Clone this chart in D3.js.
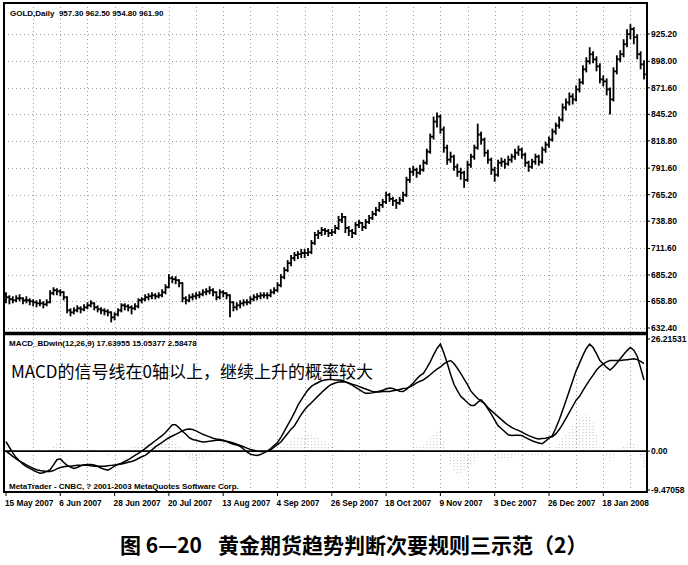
<!DOCTYPE html>
<html><head><meta charset="utf-8">
<script src="https://cdn.jsdelivr.net/npm/d3@7"></script>
<style>body{margin:0;background:#fff}svg{display:block}</style>
</head><body><svg id="c" width="688" height="565"></svg>
<script>
// ---------- data ----------
const priceTicks = [632.4, 658.8, 685.2, 711.6, 738.8, 765.2, 791.6, 818.8, 845.2, 871.6, 898.0, 925.2];
const priceTickLabels = ["632.40","658.80","685.20","711.60","738.80","765.20","791.60","818.80","845.20","871.60","898.00","925.20"];
const dateLabels = ["15 May 2007","6 Jun 2007","28 Jun 2007","20 Jul 2007","13 Aug 2007","4 Sep 2007","26 Sep 2007","18 Oct 2007","9 Nov 2007","3 Dec 2007","26 Dec 2007","18 Jan 2008"];
const macdTicks = [26.21531, 0, -9.47058];
const macdTickLabels = ["26.21531","0.00","-9.47058"];

const opens = [666,663,661,660,662,662,660,660,659,658, 657,657,656,658,667,670,669,668,663,650,
 648,650,652,651,653,655,657,653,651,650, 649,648,643,646,650,655,654,653,652,654,
 660,661,663,664,665,664,665,668,673,682, 681,680,677,662,660,663,664,665,666,668,
 669,670,668,663,668,667,665,658,653,655, 657,658,658,661,663,664,665,665,665,668,
 670,675,683,690,697,702,705,706,707,707, 708,717,725,727,730,729,727,728,732,740,
 743,732,729,727,735,737,733,738,742,746, 750,755,758,765,761,759,757,760,765,780,
 788,790,787,790,797,808,823,838,843,830, 812,800,803,793,788,787,780,795,803,812,
 825,820,807,800,790,785,797,798,796,800, 803,807,810,805,797,793,798,803,798,810,
 815,820,828,834,840,852,857,863,860,870, 877,890,898,905,900,893,880,878,870,860,
 888,900,905,915,925,930,922,905,895];
const highs = [668,665,664,665,666,663,664,662,661,660, 661,659,661,670,673,672,671,669,664,652,
 653,655,654,656,658,660,658,655,653,652, 651,649,648,652,657,657,656,655,657,662,
 663,666,667,668,667,668,671,676,686,684, 684,681,678,664,666,667,668,669,671,672,
 674,672,669,671,670,668,666,659,658,660, 661,661,664,666,667,668,668,668,671,673,
 678,686,693,700,705,708,709,711,711,712, 720,728,730,733,732,731,731,735,744,747,
 744,734,731,738,740,738,741,745,749,753, 758,761,768,767,763,761,763,768,783,792,
 794,792,795,800,811,826,843,847,845,833, 815,808,805,796,792,789,799,806,815,836,
 828,822,810,802,793,800,802,801,804,806, 811,814,812,807,799,801,806,805,813,818,
 823,831,837,843,856,861,867,866,874,881, 894,902,912,908,903,896,884,881,872,892,
 904,909,920,930,935,932,925,908,899];
const lows = [657,656,657,658,659,656,657,655,654,653, 654,652,654,657,665,665,664,660,647,644,
 646,648,647,649,651,653,650,648,646,645, 644,638,640,644,648,650,649,646,650,652,
 657,659,660,661,661,662,663,666,672,677, 676,673,658,656,658,660,661,662,664,665,
 666,664,660,661,663,661,643,649,650,652, 654,655,656,659,660,661,662,661,663,666,
 668,673,681,688,694,699,701,702,702,704, 706,715,721,724,725,723,724,726,730,737,
 727,724,722,725,732,729,731,736,740,744, 748,752,756,758,754,751,755,758,763,777,
 784,782,785,788,795,806,820,832,826,807, 795,797,789,783,780,772,778,792,800,810,
 815,803,796,785,778,783,793,791,794,797, 800,804,801,793,788,791,795,794,796,807,
 812,818,825,831,838,849,854,855,858,867, 875,887,895,896,888,876,873,864,845,858,
 885,897,902,912,920,915,900,890,880];
const closes = [663,661,660,662,662,660,660,659,658,657, 657,656,658,667,670,669,668,663,650,648,
 650,652,651,653,655,657,653,651,650,649, 648,643,646,650,655,654,653,652,654,660,
 661,663,664,665,664,665,668,673,682,681, 680,677,662,660,663,664,665,666,668,669,
 670,668,663,668,667,665,658,653,655,657, 658,658,661,663,664,665,665,665,668,670,
 675,683,690,697,702,705,706,707,707,708, 717,725,727,730,729,727,728,732,740,743,
 732,729,727,735,737,733,738,742,746,750, 755,758,765,761,759,757,760,765,780,788,
 790,787,790,797,808,823,838,843,830,812, 800,803,793,788,787,780,795,803,812,825,
 820,807,800,790,785,797,798,796,800,803, 807,810,805,797,793,798,803,798,810,815,
 820,828,834,840,852,857,863,860,870,877, 890,898,905,900,893,880,878,870,860,888,
 900,905,915,925,930,922,905,895,885];

const macdLine = [2.2,0.9,-0.4,-1.5,-2.3,-3.0,-3.6,-4.0,-4.4,-4.8, -5.1,-5.0,-4.7,-4.3,-3.2,-2.0,-1.8,-2.6,-3.3,-3.7,
 -4.0,-3.8,-3.4,-3.2,-3.1,-3.1,-3.2,-3.5,-3.9,-4.2, -4.4,-4.0,-3.4,-3.1,-2.8,-2.4,-2.0,-1.5,-1.0,-0.5,
 0.0,0.6,1.2,1.8,2.4,3.0,3.6,4.3,5.2,6.1, 6.1,5.4,4.6,3.9,3.1,2.7,2.5,2.3,2.1,2.2,
 2.3,2.4,2.5,2.5,2.4,2.2,1.9,1.6,1.4,1.1, 0.5,-0.2,-0.7,-0.9,-1.0,-0.8,-0.4,0.0,0.6,1.3,
 2.0,3.2,4.6,6.0,7.4,8.9,10.6,11.9,13.1,14.2, 15.0,15.5,15.9,16.3,16.5,16.6,16.6,16.5,16.5,16.4,
 16.1,15.7,15.3,14.8,14.3,13.8,13.4,13.4,13.5,13.7, 13.9,14.1,14.4,14.6,14.5,14.2,13.9,13.8,14.3,15.0,
 15.8,16.7,17.5,18.0,19.3,20.7,22.3,23.8,24.8,22.8, 20.4,17.8,15.5,14.0,12.7,12.0,11.2,10.6,10.6,11.3,
 11.9,11.0,9.8,8.6,7.2,5.9,5.2,4.5,3.8,3.6, 3.7,3.7,3.6,3.2,2.8,2.4,2.1,1.9,1.7,2.3,
 3.0,3.6,5.3,7.2,9.4,11.7,14.0,16.3,18.6,20.4, 22.2,23.8,24.8,24.0,22.6,21.0,20.2,19.4,18.8,19.5,
 20.4,21.4,22.4,23.3,24.0,23.4,22.0,19.3,16.5];
const signalLine = [0.0,-0.6,-1.2,-1.8,-2.3,-2.7,-3.2,-3.6,-4.0,-4.3, -4.5,-4.6,-4.7,-4.7,-4.5,-4.1,-3.8,-3.6,-3.5,-3.5,
 -3.4,-3.3,-3.3,-3.2,-3.3,-3.4,-3.5,-3.5,-3.5,-3.5, -3.4,-3.3,-3.2,-3.1,-3.0,-2.8,-2.6,-2.4,-2.1,-1.7,
 -1.3,-1.0,-0.4,0.3,1.0,1.5,2.0,2.6,3.1,3.5, 3.9,4.3,4.7,5.0,5.1,5.0,4.7,4.3,3.9,3.6,
 3.3,3.0,2.8,2.7,2.5,2.3,2.1,1.9,1.6,1.3, 1.0,0.7,0.4,0.2,0.0,-0.1,-0.1,0.0,0.3,0.9,
 1.5,2.1,3.1,4.1,5.1,5.9,7.2,8.5,9.6,10.5, 11.2,12.0,12.8,13.6,14.3,15.0,15.5,15.8,16.0,16.1,
 16.0,15.8,15.5,15.3,15.0,14.7,14.4,14.1,13.8,13.7, 13.7,13.8,13.8,13.8,14.0,14.1,14.3,14.5,14.6,14.9,
 15.3,15.8,16.2,16.5,17.1,17.7,18.4,19.0,19.5,20.2, 20.7,21.0,20.3,19.2,18.0,16.7,15.4,13.9,13.0,12.2,
 11.6,11.0,10.1,9.4,8.7,8.0,7.3,6.6,6.0,5.5, 5.1,4.8,4.4,4.0,3.6,3.3,3.0,2.8,2.9,3.0,
 3.2,3.3,4.0,5.0,6.2,7.6,9.0,10.4,11.8,12.7, 14.0,15.3,16.5,17.6,18.8,19.6,20.2,20.7,21.0,21.0,
 21.0,21.0,21.1,21.2,21.3,21.4,21.2,20.8,20.3];

// ---------- layout ----------
const svg = d3.select("#c");
const L = 4, R = 647, PT = 3, PB = 333, MT = 335, MB = 492;
const n = closes.length;
const x = d3.scaleLinear().domain([0, n - 1]).range([6, 644]);
const yP = d3.scaleLinear().domain([632.4, 925.2]).range([328, 34]);
const yM = d3.scaleLinear().domain([-9.47058, 26.21531]).range([492, 338]);
const latin = "'Liberation Sans', Arial, sans-serif";
const cjk = "'Noto Sans CJK SC', sans-serif";

const defs = svg.append("defs");
defs.append("clipPath").attr("id","cp").append("rect").attr("x",L).attr("y",PT).attr("width",R-L).attr("height",PB-PT);
defs.append("clipPath").attr("id","cm").append("rect").attr("x",L).attr("y",MT).attr("width",R-L).attr("height",MB-MT);

// grid
const gridBars = d3.range(8, n, 8);
const grid = svg.append("g").attr("stroke","#333").attr("stroke-width",0.8).attr("stroke-dasharray","1,3").attr("opacity",0.6);
grid.selectAll(".hg").data(priceTicks).join("line")
  .attr("x1",L).attr("x2",R).attr("y1",d=>Math.round(yP(d))+0.5).attr("y2",d=>Math.round(yP(d))+0.5);
grid.selectAll(".vg").data(gridBars).join("line")
  .attr("x1",d=>Math.round(x(d))+0.5).attr("x2",d=>Math.round(x(d))+0.5).attr("y1",PT).attr("y2",MB);

// price bars (OHLC)
const pb = svg.append("g").attr("clip-path","url(#cp)").attr("stroke","#000");
const idx = d3.range(n);
pb.selectAll(".hl").data(idx).join("line")
  .attr("x1",i=>x(i)).attr("x2",i=>x(i)).attr("y1",i=>yP(highs[i])).attr("y2",i=>yP(lows[i]))
  .attr("stroke-width",1.8);
pb.selectAll(".op").data(idx).join("line")
  .attr("x1",i=>x(i)-1.8).attr("x2",i=>x(i)).attr("y1",i=>yP(opens[i])).attr("y2",i=>yP(opens[i]))
  .attr("stroke-width",1.8);
pb.selectAll(".cl").data(idx).join("line")
  .attr("x1",i=>x(i)).attr("x2",i=>x(i)+1.8).attr("y1",i=>yP(closes[i])).attr("y2",i=>yP(closes[i]))
  .attr("stroke-width",1.8);

// MACD panel
const mg = svg.append("g").attr("clip-path","url(#cm)");
mg.selectAll(".hist").data(idx).join("line")
  .attr("x1",i=>x(i)).attr("x2",i=>x(i))
  .attr("y1",yM(0)).attr("y2",i=>yM(macdLine[i]-signalLine[i]))
  .attr("stroke","#999").attr("stroke-width",0.8).attr("stroke-dasharray","1,2").attr("opacity",0.8);
mg.append("line").attr("x1",L).attr("x2",R).attr("y1",yM(0)).attr("y2",yM(0)).attr("stroke","#000").attr("stroke-width",1.8);
const ln = (arr)=>d3.line().x((d,i)=>x(i)).y(d=>yM(d)).curve(d3.curveLinear)(arr);
mg.append("path").attr("d",ln(signalLine)).attr("fill","none").attr("stroke","#000").attr("stroke-width",1.5);
mg.append("path").attr("d",ln(macdLine)).attr("fill","none").attr("stroke","#000").attr("stroke-width",1.5);

// frame
const fr = svg.append("g").attr("fill","none").attr("stroke","#000");
fr.append("rect").attr("x",L).attr("y",PT).attr("width",R-L).attr("height",MB-PT).attr("stroke-width",2);
fr.append("line").attr("x1",L).attr("x2",R).attr("y1",PB+0.5).attr("y2",PB+0.5).attr("stroke-width",3.5);

// right axes
const ra = svg.append("g").attr("font-family",latin).attr("font-size",8.5).attr("font-weight","bold").attr("fill","#000");
ra.selectAll(".pt").data(priceTicks).join("line")
  .attr("x1",R).attr("x2",R+3).attr("y1",d=>yP(d)).attr("y2",d=>yP(d)).attr("stroke","#000");
ra.selectAll(".ptl").data(priceTicks).join("text")
  .attr("x",R+4).attr("y",d=>yP(d)+3).text((d,i)=>priceTickLabels[i]);
ra.selectAll(".mt").data(macdTicks).join("line")
  .attr("x1",R).attr("x2",R+3).attr("y1",d=>Math.min(Math.max(yM(d),MT+4),MB-2)).attr("y2",d=>Math.min(Math.max(yM(d),MT+4),MB-2)).attr("stroke","#000");
ra.selectAll(".mtl").data(macdTicks).join("text")
  .attr("x",R+4).attr("y",d=>Math.min(Math.max(yM(d),MT+4),MB-2)+3).text((d,i)=>macdTickLabels[i]);

// bottom axis
const dateBars = d3.range(0, n, 16);
const ba = svg.append("g").attr("font-family",latin).attr("font-size",8.3).attr("font-weight","bold").attr("fill","#000");
ba.selectAll(".dt").data(dateBars).join("line")
  .attr("x1",d=>x(d)).attr("x2",d=>x(d)).attr("y1",MB).attr("y2",MB+4).attr("stroke","#000");
ba.selectAll(".dtl").data(dateBars).join("text")
  .attr("x",d=>x(d)-1).attr("y",506).text((d,i)=>dateLabels[i]);

// header texts
const tx = svg.append("g").attr("font-family",latin).attr("font-size",8).attr("font-weight","bold").attr("fill","#000");
tx.append("text").attr("x",10).attr("y",16).attr("xml:space","preserve").text("GOLD,Daily  957.30 962.50 954.80 961.90");
tx.append("text").attr("x",9).attr("y",346).text("MACD_BDwin(12,26,9) 17.63955 15.05377 2.58478");
tx.append("text").attr("x",9).attr("y",489).text("MetaTrader - CNBC, ? 2001-2003 MetaQuotes Software Corp.");

// annotation
svg.append("text").attr("x",11).attr("y",378).attr("font-family",cjk).attr("font-size",17).attr("fill","#000")
  .text("MACD的信号线在0轴以上，继续上升的概率较大");

// caption
svg.append("text").attr("x",120).attr("y",553).attr("font-family",cjk).attr("font-size",21).attr("font-weight","bold").attr("fill","#000").text("图 6—20");
svg.append("text").attr("x",218).attr("y",553).attr("font-family",cjk).attr("font-size",21).attr("font-weight","bold").attr("fill","#000").text("黄金期货趋势判断次要规则三示范（2）");
</script>
</body></html>
